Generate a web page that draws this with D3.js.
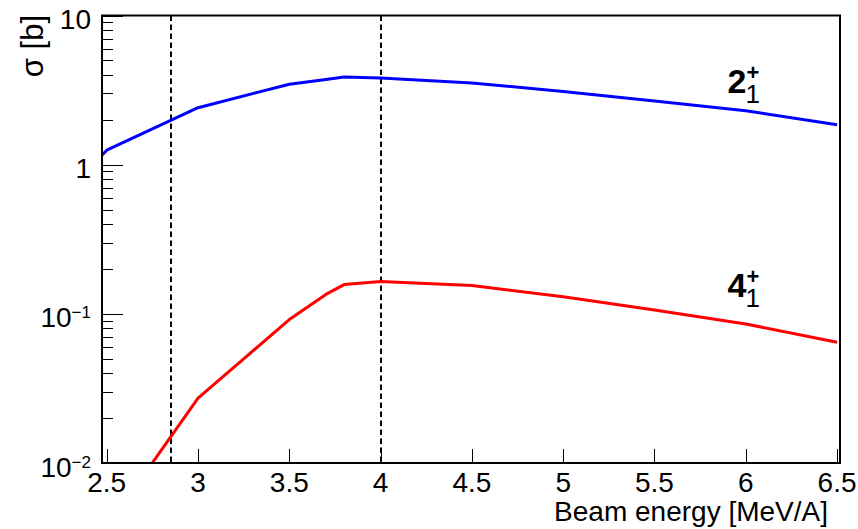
<!DOCTYPE html>
<html lang="en">
<head>
<meta charset="UTF-8">
<title>Cross section vs beam energy</title>
<script src="https://cdnjs.cloudflare.com/ajax/libs/d3/7.8.5/d3.min.js"></script>
<style>
    body { margin: 0; background: #fff; }
    svg { display: block; font-family: "Liberation Sans", Arial, sans-serif; }
</style>
</head>
<body>
<svg width="858" height="529"></svg>
<script>
    // values
    const energy2 = [2.25, 2.5, 3.0, 3.5, 3.7, 3.8, 4.0, 4.5, 5.0, 5.5, 6.0, 6.5];
    const sigma2 = [0.6, 1.25, 2.41, 3.46, 3.72, 3.87, 3.81, 3.53, 3.09, 2.67, 2.30, 1.85];
    const energy4 = [2.5, 3.0, 3.5, 3.7, 3.8, 4.0, 4.5, 5.0, 5.5, 6.0, 6.5];
    const sigma4 = [0.0037, 0.0272, 0.0916, 0.135, 0.157, 0.165, 0.155, 0.130, 0.106, 0.0855, 0.0645];
    const xTicks = [2.5, 3, 3.5, 4, 4.5, 5, 5.5, 6, 6.5];
    const yDecades = [0.01, 0.1, 1, 10];
    const yLabels = [["10", "\u22122"], ["10", "\u22121"], ["1", null], ["10", null]];
    const markers = [2.85, 4.0];

    const svg = d3.select("svg");
    const pL = 102, pR = 840, pT = 15.5, pB = 463;

    const x = d3.scaleLinear().domain([2.474, 6.516]).range([pL, pR]);
    const y = d3.scaleLog().domain([0.01, 10]).range([pB, pT]);

    svg.append("defs").append("clipPath").attr("id", "clip")
        .append("rect")
        .attr("x", pL).attr("y", pT)
        .attr("width", pR - pL).attr("height", pB - pT);

    // minor + major y ticks
    const minor = [];
    yDecades.slice(0, 3).forEach(d => {
        for (let k = 2; k <= 9; k++) minor.push(d * k);
    });
    svg.append("g").selectAll("line").data(minor).enter().append("line")
        .attr("x1", pL).attr("x2", pL + 11)
        .attr("y1", d => Math.round(y(d)) + 0.5).attr("y2", d => Math.round(y(d)) + 0.5)
        .attr("stroke", "#000").attr("stroke-width", 1);
    svg.append("g").selectAll("line").data(yDecades).enter().append("line")
        .attr("x1", pL).attr("x2", pL + 21)
        .attr("y1", d => Math.round(y(d)) + 0.5).attr("y2", d => Math.round(y(d)) + 0.5)
        .attr("stroke", "#000").attr("stroke-width", 1);

    // x ticks
    svg.append("g").selectAll("line").data(xTicks).enter().append("line")
        .attr("x1", d => Math.round(x(d)) + 0.5).attr("x2", d => Math.round(x(d)) + 0.5)
        .attr("y1", pB).attr("y2", pB - 14)
        .attr("stroke", "#000").attr("stroke-width", 1);

    // x tick labels
    svg.append("g").selectAll("text").data(xTicks).enter().append("text")
        .attr("x", d => x(d)).attr("y", pB + 29)
        .attr("text-anchor", "middle")
        .attr("font-size", 28)
        .text(d => d);

    // y tick labels
    const yl = svg.append("g").selectAll("text").data(yDecades).enter().append("text")
        .attr("x", 91).attr("y", d => y(d) + 13.5)
        .attr("text-anchor", "end")
        .attr("font-size", 28);
    yl.each(function(d, i) {
        const t = d3.select(this);
        const lab = yLabels[i];
        t.append("tspan").text(lab[0]);
        if (lab[1]) {
            t.append("tspan").attr("font-size", 17).attr("dy", -9).text(lab[1]);
        }
    });

    // vertical dashed markers
    svg.append("g").selectAll("line").data(markers).enter().append("line")
        .attr("x1", d => Math.round(x(d))).attr("x2", d => Math.round(x(d)))
        .attr("y1", pT).attr("y2", pB)
        .attr("stroke", "#000").attr("stroke-width", 2)
        .attr("stroke-dasharray", "5.5,3.5");

    const line2 = d3.line().x((d, i) => x(energy2[i])).y(d => y(d));
    const line4 = d3.line().x((d, i) => x(energy4[i])).y(d => y(d));

    const curves = svg.append("g").attr("clip-path", "url(#clip)");
    curves.append("path").datum(sigma2)
        .attr("d", line2).attr("fill", "none")
        .attr("stroke", "#0000ff").attr("stroke-width", 3)
        .attr("stroke-linejoin", "round");
    curves.append("path").datum(sigma4)
        .attr("d", line4).attr("fill", "none")
        .attr("stroke", "#ff0000").attr("stroke-width", 3)
        .attr("stroke-linejoin", "round");

    // frame
    svg.append("rect")
        .attr("x", pL).attr("y", pT)
        .attr("width", pR - pL).attr("height", pB - pT)
        .attr("fill", "none").attr("stroke", "#000").attr("stroke-width", 2);

    // state labels: J^+_1
    function stateLabel(num, ex, ey) {
        const px = x(ex), py = y(ey);
        const t = svg.append("text").attr("x", px).attr("y", py)
            .attr("font-size", 34).attr("font-weight", "bold");
        t.append("tspan").text(num);
        t.append("tspan").attr("x", px + 19).attr("dy", -13)
            .attr("font-size", 22).text("+");
        t.append("tspan").attr("x", px + 18).attr("dy", 23)
            .attr("font-size", 26).attr("font-weight", "normal").text("1");
    }
    stateLabel("2", 5.90, 3.02);
    stateLabel("4", 5.90, 0.1297);

    // axis titles
    svg.append("text")
        .attr("x", 828).attr("y", 521)
        .attr("text-anchor", "end")
        .attr("font-size", 28)
        .text("Beam energy [MeV/A]");

    svg.append("text")
        .attr("transform", "translate(42.5,15) rotate(-90)")
        .attr("text-anchor", "end")
        .attr("font-size", 31)
        .text("\u03c3 [b]");
</script>
</body>
</html>
